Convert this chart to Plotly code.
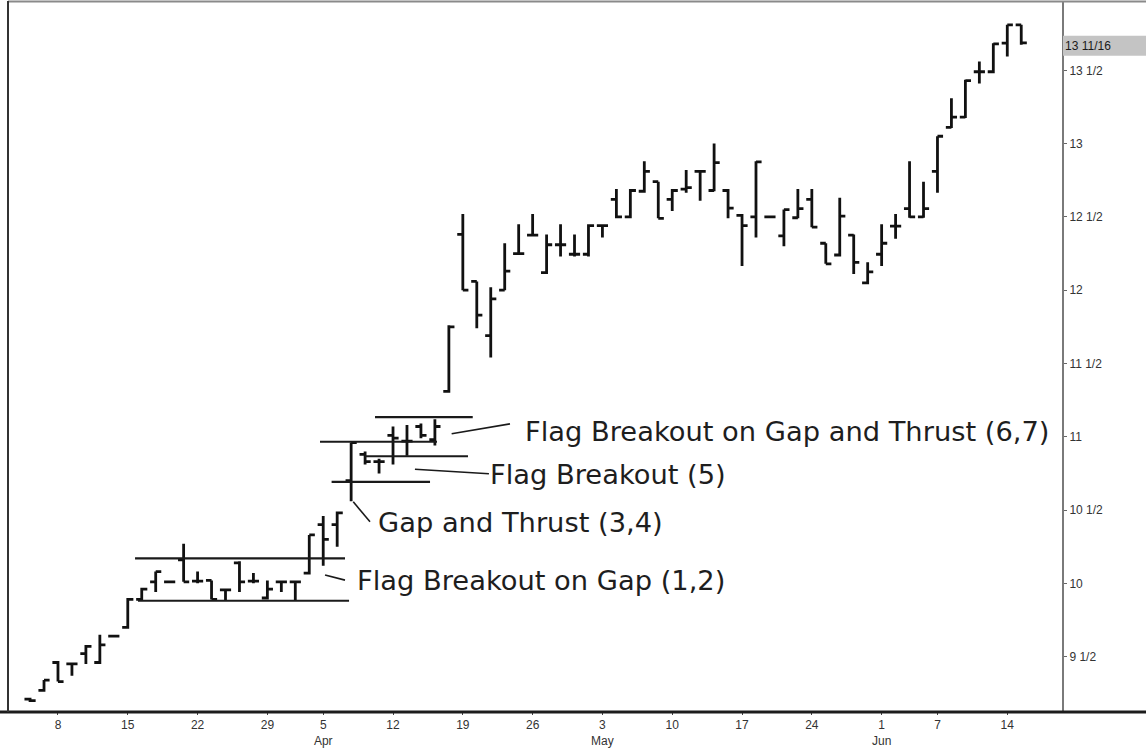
import plotly.graph_objects as go

# ---------------- data ----------------
dates = [
    "1999-03-04", "1999-03-05", "1999-03-08", "1999-03-09", "1999-03-10", "1999-03-11", "1999-03-12",
    "1999-03-15", "1999-03-16", "1999-03-17", "1999-03-18", "1999-03-19",
    "1999-03-22", "1999-03-23", "1999-03-24", "1999-03-25", "1999-03-26",
    "1999-03-29", "1999-03-30", "1999-03-31", "1999-04-01",
    "1999-04-05", "1999-04-06", "1999-04-07", "1999-04-08", "1999-04-09",
    "1999-04-12", "1999-04-13", "1999-04-14", "1999-04-15", "1999-04-16",
    "1999-04-19", "1999-04-20", "1999-04-21", "1999-04-22", "1999-04-23",
    "1999-04-26", "1999-04-27", "1999-04-28", "1999-04-29", "1999-04-30",
    "1999-05-03", "1999-05-04", "1999-05-05", "1999-05-06", "1999-05-07",
    "1999-05-10", "1999-05-11", "1999-05-12", "1999-05-13", "1999-05-14",
    "1999-05-17", "1999-05-18", "1999-05-19", "1999-05-20", "1999-05-21",
    "1999-05-24", "1999-05-25", "1999-05-26", "1999-05-27", "1999-05-28",
    "1999-06-01", "1999-06-02", "1999-06-03", "1999-06-04",
    "1999-06-07", "1999-06-08", "1999-06-09", "1999-06-10", "1999-06-11",
    "1999-06-14", "1999-06-15",
]
opens = [
    9.21, 9.27, 9.46, 9.45, 9.52, 9.46, 9.64,
    9.70, 9.89, 10.01, 10.01, 10.16,
    10.015, 10.02, 9.955, 10.14, 10.015,
    9.90, 10.01, 10.01, 10.07,
    10.40, 10.40, 10.70, 10.88, 10.83,
    11.01, 10.97, 11.07, 10.98, 11.31,
    12.38, 12.06, 11.69, 12.00, 12.25,
    12.375, 12.12, 12.31, 12.245, 12.245,
    12.44, 12.62, 12.50, 12.675, 12.74,
    12.62, 12.69, 12.81, 12.68, 12.68,
    12.51, 12.50, 12.50, 12.37, 12.494,
    12.62, 12.32, 12.24, 12.375, 12.05,
    12.245, 12.437, 12.556, 12.50,
    12.81, 13.11, 13.18, 13.49, 13.49,
    13.685, 13.81,
]
highs = [
    9.22, 9.34, 9.47, 9.46, 9.58, 9.65, 9.65,
    9.90, 9.97, 10.08, 10.02, 10.27,
    10.08, 10.02, 9.96, 10.15, 10.07,
    10.02, 10.01, 10.02, 10.33,
    10.46, 10.49, 10.96, 10.90, 10.85,
    11.07, 11.08, 11.09, 11.12, 11.76,
    12.52, 12.06, 12.02, 12.32, 12.45,
    12.52, 12.38, 12.45, 12.38, 12.45,
    12.44, 12.69, 12.69, 12.88, 12.74,
    12.69, 12.82, 12.815, 13.00, 12.69,
    12.52, 12.88, 12.51, 12.55, 12.69,
    12.69, 12.32, 12.63, 12.38, 12.19,
    12.45, 12.52, 12.88, 12.74,
    13.05, 13.31, 13.435, 13.56, 13.685,
    13.81, 13.81,
]
lows = [
    9.19, 9.26, 9.33, 9.37, 9.45, 9.45, 9.63,
    9.69, 9.88, 9.94, 10.00, 10.01,
    10.00, 9.89, 9.88, 9.94, 10.00,
    9.89, 9.94, 9.88, 10.06,
    10.12, 10.25, 10.56, 10.81, 10.75,
    10.81, 10.87, 10.99, 10.94, 11.30,
    12.00, 11.74, 11.54, 12.00, 12.245,
    12.37, 12.11, 12.23, 12.23, 12.23,
    12.36, 12.49, 12.49, 12.665, 12.49,
    12.54, 12.665, 12.61, 12.675, 12.49,
    12.165, 12.36, 12.49, 12.30, 12.49,
    12.43, 12.18, 12.23, 12.11, 12.04,
    12.165, 12.35, 12.494, 12.494,
    12.665, 13.107, 13.175, 13.41, 13.48,
    13.594, 13.674,
]
closes = [
    9.20, 9.34, 9.33, 9.45, 9.57, 9.58, 9.64,
    9.89, 9.96, 10.08, 10.01, 10.01,
    10.015, 9.89, 9.955, 10.01, 10.015,
    9.96, 10.01, 10.01, 10.33,
    10.30, 10.48, 10.96, 10.83, 10.83,
    10.99, 10.97, 11.01, 11.07, 11.75,
    12.00, 11.83, 11.94, 12.13, 12.25,
    12.375, 12.31, 12.31, 12.245, 12.44,
    12.44, 12.50, 12.68, 12.81, 12.49,
    12.68, 12.70, 12.81, 12.87, 12.56,
    12.44, 12.875, 12.50, 12.55, 12.556,
    12.43, 12.18, 12.505, 12.19, 12.125,
    12.32, 12.437, 12.50, 12.556,
    13.05, 13.18, 13.43, 13.49, 13.68,
    13.81, 13.6875,
]

week_tick_dates = ["1999-03-08", "1999-03-15", "1999-03-22", "1999-03-29", "1999-04-05",
                   "1999-04-12", "1999-04-19", "1999-04-26", "1999-05-03", "1999-05-10",
                   "1999-05-17", "1999-05-24", "1999-06-01", "1999-06-07", "1999-06-14"]
week_tick_labels = ["8", "15", "22", "29", "5<br>Apr", "12", "19", "26", "3<br>May", "10",
                    "17", "24", "1<br>Jun", "7", "14"]

price_ticks = [9.5, 10, 10.5, 11, 11.5, 12, 12.5, 13, 13.5]
price_tick_labels = ["9 1/2", "10", "10 1/2", "11", "11 1/2", "12", "12 1/2", "13", "13 1/2"]
last_price = 13.6875
last_price_label = "13 11/16"

# flag boundary lines: level, start/end (trading-day position)
flag_levels = [10.170, 9.881, 11.134, 10.966, 10.867, 10.692]
flag_starts = [7.52, 7.73, 24.71, 20.77, 23.99, 21.6]
flag_ends = [22.56, 22.85, 31.71, 29.15, 31.37, 28.65]

# callouts
note_texts = ["Flag Breakout on Gap and Thrust (6,7)", "Flag Breakout (5)",
              "Gap and Thrust (3,4)", "Flag Breakout on Gap (1,2)"]
note_x = [35.3, 32.8, 24.8, 23.3]
note_y = [11.034, 10.741, 10.415, 10.020]
leader_x0 = [30.2, 27.57, 23.15, 21.13]
leader_y0 = [11.02, 10.778, 10.556, 10.057]
leader_x1 = [34.38, 32.87, 24.35, 22.56]
leader_y1 = [11.088, 10.748, 10.42, 10.022]

# ---------------- figure ----------------
fig = go.Figure()
fig.add_trace(go.Ohlc(
    x=dates, open=opens, high=highs, low=lows, close=closes,
    increasing=dict(line=dict(color="#111111", width=2.8)),
    decreasing=dict(line=dict(color="#111111", width=2.8)),
    tickwidth=0.4, showlegend=False, hoverinfo="skip",
))

shapes = []
for lv, x0, x1 in zip(flag_levels, flag_starts, flag_ends):
    shapes.append(dict(type="line", xref="x", yref="y", x0=x0, x1=x1, y0=lv, y1=lv,
                       line=dict(color="#1a1a1a", width=2.2)))
for x0, y0, x1, y1 in zip(leader_x0, leader_y0, leader_x1, leader_y1):
    shapes.append(dict(type="line", xref="x", yref="y", x0=x0, x1=x1, y0=y0, y1=y1,
                       line=dict(color="#1a1a1a", width=1.6)))

W, H = 1146, 750
ml, mr, mt, mb = 8, 84, 2, 37
pw = W - ml - mr
ph = H - mt - mb
# frame
shapes.append(dict(type="line", xref="paper", yref="paper", x0=-ml / pw, x1=(W - ml) / pw,
                   y0=-1 / ph, y1=-1 / ph, line=dict(color="#1c1c1c", width=3)))
shapes.append(dict(type="line", xref="paper", yref="paper", x0=0, x1=(W - ml) / pw,
                   y0=1 + 0.5 / ph, y1=1 + 0.5 / ph, line=dict(color="#8a8a8a", width=2)))
shapes.append(dict(type="line", xref="paper", yref="paper", x0=0, x1=0,
                   y0=-1 / ph, y1=1 + 1 / ph, line=dict(color="#333333", width=2)))
# highlight box for last price label
shapes.append(dict(type="rect", xref="paper", yref="y", x0=1 + 1 / pw, x1=(W - ml) / pw,
                   y0=last_price - 13 / 147, y1=last_price + 7 / 147,
                   fillcolor="#c4c4c4", line=dict(width=0), layer="above"))

annotations = []
for t, x, y in zip(note_texts, note_x, note_y):
    annotations.append(dict(text=t, x=x, y=y, xref="x", yref="y", xanchor="left", yanchor="middle",
                            showarrow=False, font=dict(family="DejaVu Sans", size=27.3, color="#1e1e1e")))
annotations.append(dict(text=last_price_label, x=1, y=last_price, xref="paper", yref="y",
                        xanchor="left", yanchor="middle", showarrow=False, xshift=1, yshift=-3,
                        font=dict(family="Liberation Sans Narrow, Liberation Sans, Arial", size=12,
                                  color="#1a1a1a")))

tick_font = dict(family="Liberation Sans Narrow, Liberation Sans, Arial", size=12, color="#333333")
fig.update_layout(
    width=W, height=H,
    margin=dict(l=ml, r=mr, t=mt, b=mb),
    paper_bgcolor="white", plot_bgcolor="white",
    shapes=shapes, annotations=annotations,
    xaxis=dict(type="category", range=[-1.58, 73.92], rangeslider=dict(visible=False),
               showgrid=False, zeroline=False, showline=False,
               tickmode="array", tickvals=week_tick_dates, ticktext=week_tick_labels,
               ticks="outside", ticklen=3, tickcolor="#444", tickfont=tick_font),
    yaxis=dict(side="right", range=[9.129, 13.966], showgrid=False, zeroline=False,
               showline=True, linecolor="#7a7a7a", linewidth=2,
               tickmode="array", tickvals=price_ticks, ticktext=price_tick_labels,
               ticks="outside", ticklen=3, tickcolor="#666", tickfont=tick_font),
)

fig.write_html("out.html", config={"displayModeBar": False},
               post_script="document.body.style.margin='0';document.body.style.overflow='hidden';")
